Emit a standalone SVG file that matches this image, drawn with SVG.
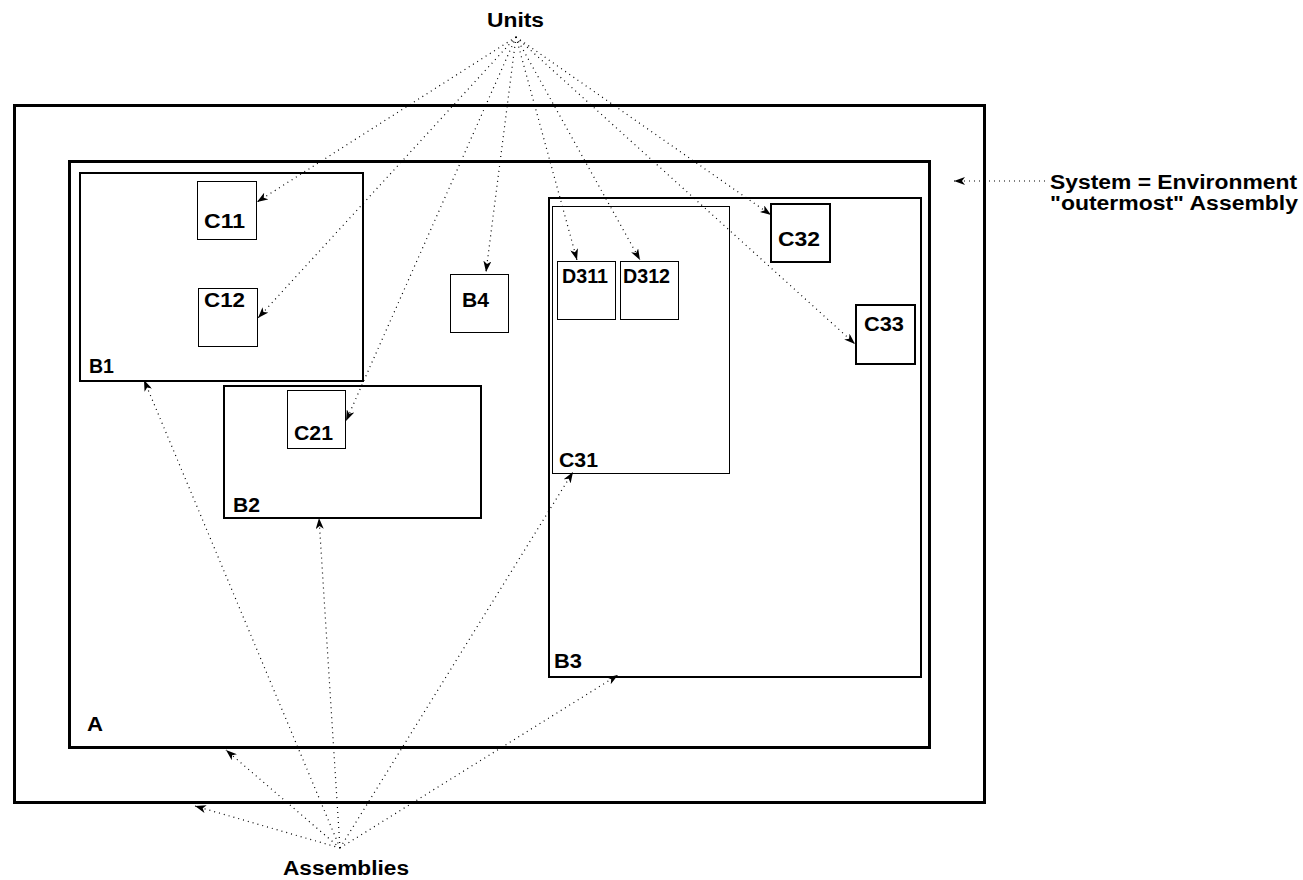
<svg xmlns="http://www.w3.org/2000/svg" width="1303" height="880" viewBox="0 0 1303 880">
<style>
text{font-family:"Liberation Sans",Arial,sans-serif;font-weight:bold;font-size:20px;fill:#000}
.b3{fill:none;stroke:#000;stroke-width:3}
.b2{fill:none;stroke:#000;stroke-width:2}
.b1{fill:none;stroke:#000;stroke-width:1}
.c{fill:none;stroke:#000;stroke-width:1.2;stroke-dasharray:1 4;marker-end:url(#ah)}
</style>
<defs>
<marker id="ah" markerUnits="userSpaceOnUse" markerWidth="12" markerHeight="8" refX="11" refY="4" orient="auto">
<path d="M0,0 L11,4 L0,8 L3,4 z" fill="#000"/>
</marker>
</defs>
<rect width="1303" height="880" fill="#fff"/>
<g id="system"><rect class="b3" x="14.5" y="105.5" width="970" height="697"/></g>
<g id="A"><rect class="b3" x="69.5" y="161.5" width="860" height="586"/><text x="87" y="731" textLength="16" lengthAdjust="spacingAndGlyphs">A</text></g>
<g id="B1"><rect class="b2" x="80" y="173" width="283" height="208"/><text x="89" y="373" textLength="25" lengthAdjust="spacingAndGlyphs">B1</text></g>
<g id="C11"><rect class="b1" x="197.5" y="181.5" width="59" height="58"/><text x="204" y="228" textLength="41" lengthAdjust="spacingAndGlyphs">C11</text></g>
<g id="C12"><rect class="b1" x="198.5" y="288.5" width="59" height="58"/><text x="204" y="307" textLength="41" lengthAdjust="spacingAndGlyphs">C12</text></g>
<g id="B2"><rect class="b2" x="224" y="386" width="257" height="132"/><text x="233" y="512" textLength="27" lengthAdjust="spacingAndGlyphs">B2</text></g>
<g id="C21"><rect class="b1" x="287.5" y="390.5" width="58" height="58"/><text x="294" y="440" textLength="39" lengthAdjust="spacingAndGlyphs">C21</text></g>
<g id="B4"><rect class="b1" x="450.5" y="274.5" width="58" height="58"/><text x="462" y="307" textLength="27" lengthAdjust="spacingAndGlyphs">B4</text></g>
<g id="B3"><rect class="b2" x="549" y="198" width="372" height="479"/><text x="554" y="668" textLength="28" lengthAdjust="spacingAndGlyphs">B3</text></g>
<g id="C31"><rect class="b1" x="552.5" y="206.5" width="177" height="267"/><text x="559" y="467" textLength="39" lengthAdjust="spacingAndGlyphs">C31</text></g>
<g id="D311"><rect class="b1" x="557.5" y="261.5" width="58" height="58"/><text x="562" y="283" textLength="46" lengthAdjust="spacingAndGlyphs">D311</text></g>
<g id="D312"><rect class="b1" x="620.5" y="261.5" width="58" height="58"/><text x="623" y="283" textLength="47" lengthAdjust="spacingAndGlyphs">D312</text></g>
<g id="C32"><rect class="b2" x="771" y="204" width="59" height="58"/><text x="778" y="246" textLength="42" lengthAdjust="spacingAndGlyphs">C32</text></g>
<g id="C33"><rect class="b2" x="856" y="305" width="59" height="59"/><text x="864" y="331" textLength="40" lengthAdjust="spacingAndGlyphs">C33</text></g>
<g id="labels">
<text x="487" y="27" textLength="57" lengthAdjust="spacingAndGlyphs">Units</text>
<text x="1050" y="189" textLength="247" lengthAdjust="spacingAndGlyphs">System = Environment</text>
<text x="1050" y="210" textLength="248" lengthAdjust="spacingAndGlyphs">"outermost" Assembly</text>
<text x="283" y="875" textLength="126" lengthAdjust="spacingAndGlyphs">Assemblies</text>
</g>
<g id="connectors">
<path class="c" d="M516,37 L257,202"/>
<path class="c" d="M516,37 L258,318"/>
<path class="c" d="M516,37 L346,421"/>
<path class="c" d="M516,37 L486,272"/>
<path class="c" d="M516,37 L577,260"/>
<path class="c" d="M516,37 L640,260"/>
<path class="c" d="M516,37 L771,215"/>
<path class="c" d="M516,37 L855,344"/>
<path class="c" d="M1045,181 L954,181"/>
<path class="c" d="M340,848 L195,806"/>
<path class="c" d="M340,848 L226,750"/>
<path class="c" d="M340,848 L144,380"/>
<path class="c" d="M340,848 L319,518"/>
<path class="c" d="M340,848 L573,472"/>
<path class="c" d="M340,848 L618,675"/>
</g>
</svg>
